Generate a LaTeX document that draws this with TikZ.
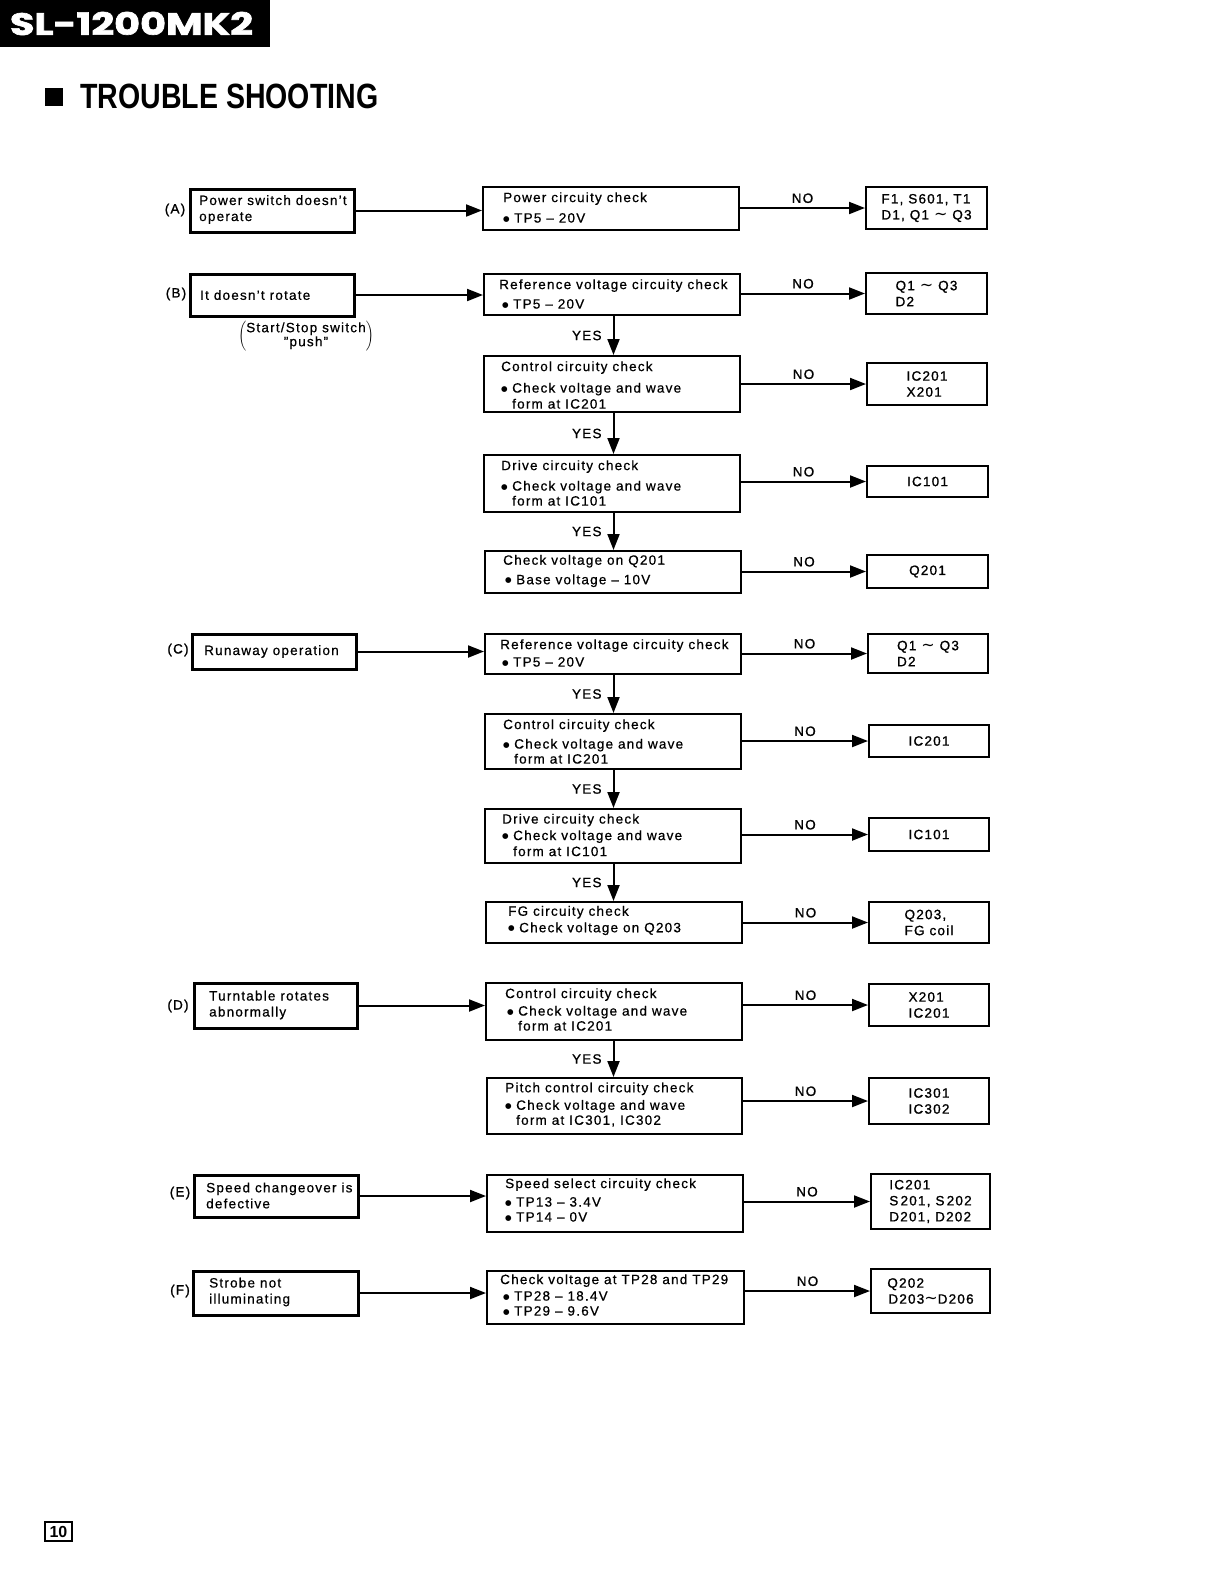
\documentclass[tikz,border=0pt]{standalone}
\usepackage{fontspec}
\usepackage{graphicx}
\usetikzlibrary{arrows.meta}
\newfontfamily\tsf{Liberation Sans}[LetterSpace=9,FakeBold=0.6]
\newfontfamily\tsfm{Liberation Sans}[LetterSpace=9,FakeBold=1.1]
\newfontfamily\hdrf{Poppins}[FakeBold=2]
\newfontfamily\ttlf{Liberation Sans}
\newfontfamily\dvs{DejaVu Sans}
\newcommand\fs{\fontsize{13.5pt}{16pt}\selectfont}
\newcommand\bul{\makebox[11pt][l]{\raisebox{1.3pt}{\dvs\fontsize{7.5pt}{7.5pt}\selectfont ●}}}
\newcommand\ind{\hspace*{11pt}}
\newcommand\tl{{\dvs\fontsize{16pt}{16pt}\selectfont ∼}}
\newcommand\dsh{–}
\newcommand\bx[7]{\node[#1, minimum width={#5-#3}, minimum height={#6-#4}] (#2) at ({(#3+#5)/2},{(#4+#6)/2}) {#7};}
\begin{document}
\begin{tikzpicture}[x=1pt,y=-1pt,
  lbox/.style={draw, line width=3pt, inner sep=0pt},
  mbox/.style={draw, line width=2pt, inner sep=0pt},
  rbox/.style={draw, line width=2pt, inner sep=0pt, align=left, font=\fs\tsfm},
  txt/.style={inner sep=0pt, align=left, anchor=west, font=\fs\tsf},
  lab/.style={inner sep=0pt, font=\fs\tsfm},
  arr/.style={line width=2pt, -{Triangle[length=16pt,width=12pt]}},
]
\fill[white] (0,0) rectangle (1218,1572);
\useasboundingbox (0,0) rectangle (1218,1572);

% header
\node[fill=black, minimum width=270, minimum height=47, anchor=north west, inner sep=0pt] (hdr) at (0,0) {};
\node[text=white, inner sep=0pt] (hdrt) at (131.5,23.5) {\resizebox{243pt}{23pt}{\hdrf\bfseries SL-1200MK2}};
\node[fill=black, minimum size=18, inner sep=0pt] (sq) at (54,97) {};
\node[anchor=west, inner sep=0pt] (ttl) at (80,96) {\resizebox{298pt}{24.5pt}{\ttlf\bfseries TROUBLE SHOOTING}};

% left boxes
\bx{lbox}{lA}{190}{189}{354}{232}{}
\bx{lbox}{lB}{190}{274}{354}{316}{}
\bx{lbox}{lC}{192}{634}{356}{669}{}
\bx{lbox}{lD}{194}{983}{357}{1028}{}
\bx{lbox}{lE}{194}{1175}{358}{1217}{}
\bx{lbox}{lF}{193}{1271}{358}{1315}{}
\node[txt] (lAt) at (199,209.5) {Power switch doesn’t\\operate};
\node[txt] (lBt) at (200,295) {It doesn’t rotate};
\node[txt] (lCt) at (204,651.5) {Runaway operation};
\node[txt] (lDt) at (209,1005) {Turntable rotates\\abnormally};
\node[txt] (lEt) at (206,1195.5) {Speed changeover is\\defective};
\node[txt] (lFt) at (209,1292) {Strobe not\\illuminating};
\node[lab] (LA) at (175,210) {(A)};
\node[lab] (LB) at (176,294) {(B)};
\node[lab] (LC) at (178,650) {(C)};
\node[lab] (LD) at (178,1006) {(D)};
\node[lab] (LE) at (180,1193) {(E)};
\node[lab] (LF) at (180,1291) {(F)};
\node[inner sep=0pt] (noteB) at (306,336) {$\left(\vcenter{\hbox{\fs\tsf\begin{tabular}{@{}c@{}}Start/Stop switch\\[-2pt]”push”\end{tabular}}}\right)$};

% middle boxes
\bx{mbox}{mA}{483}{187}{739}{230}{}
\bx{mbox}{mB1}{484}{274}{740}{315}{}
\bx{mbox}{mB2}{484}{356}{740}{412}{}
\bx{mbox}{mB3}{484}{455}{740}{512}{}
\bx{mbox}{mB4}{485}{551}{741}{593}{}
\bx{mbox}{mC1}{485}{634}{741}{674}{}
\bx{mbox}{mC2}{485}{714}{741}{769}{}
\bx{mbox}{mC3}{485}{809}{741}{863}{}
\bx{mbox}{mC4}{486}{902}{742}{943}{}
\bx{mbox}{mD1}{486}{983}{742}{1040}{}
\bx{mbox}{mD2}{487}{1078}{742}{1134}{}
\bx{mbox}{mE}{487}{1175}{743}{1232}{}
\bx{mbox}{mF}{487}{1271}{744}{1324}{}
\node[txt] (mAt) at (503,207.5) {Power circuity check\\[4.5pt]\bul TP5 \dsh{} 20V};
\node[txt] (mB1t) at (499,294) {Reference voltage circuity check\\[3.5pt]\hspace*{3pt}\bul TP5 \dsh{} 20V};
\node[txt] (mB2t) at (501,385) {Control circuity check\\[5.5pt]\bul Check voltage and wave\\\ind form at IC201};
\node[txt] (mB3t) at (501,483) {Drive circuity check\\[4.5pt]\bul Check voltage and wave\\[-1pt]\ind form at IC101};
\node[txt] (mB4t) at (503,571) {Check voltage on Q201\\[3.5pt]\hspace*{2pt}\bul Base voltage \dsh{} 10V};
\node[txt] (mC1t) at (500,653) {Reference voltage circuity check\\[1.5pt]\hspace*{2pt}\bul TP5 \dsh{} 20V};
\node[txt] (mC2t) at (503,741.5) {Control circuity check\\[3.5pt]\bul Check voltage and wave\\[-1pt]\ind form at IC201};
\node[txt] (mC3t) at (502,835) {Drive circuity check\\[0.5pt]\bul Check voltage and wave\\\ind form at IC101};
\node[txt] (mC4t) at (508,920.5) {FG circuity check\\[0.5pt]\bul Check voltage on Q203};
\node[txt] (mD1t) at (505,1009.5) {Control circuity check\\[1.5pt]\hspace*{2pt}\bul Check voltage and wave\\[-1pt]\hspace*{2pt}\ind form at IC201};
\node[txt] (mD2t) at (505,1104.5) {Pitch control circuity check\\[1.5pt]\bul Check voltage and wave\\[-1pt]\ind form at IC301, IC302};
\node[txt] (mEt) at (505,1200) {Speed select circuity check\\[2.5pt]\bul TP13 \dsh{} 3.4V\\[-1pt]\bul TP14 \dsh{} 0V};
\node[txt] (mFt) at (500,1295) {Check voltage at TP28 and TP29\\[0.5pt]\hspace*{3pt}\bul TP28 \dsh{} 18.4V\\[-1pt]\hspace*{3pt}\bul TP29 \dsh{} 9.6V};

% right boxes
\bx{rbox}{rA}{866}{187}{987}{229}{F1, S601, T1\\D1, Q1 \tl\ Q3}
\bx{rbox}{rB1}{866}{273}{987}{314}{Q1 \tl\ Q3\\D2}
\bx{rbox}{rB2}{867}{363}{987}{405}{IC201\\X201}
\bx{rbox}{rB3}{867}{466}{988}{497}{IC101}
\bx{rbox}{rB4}{867}{555}{988}{588}{Q201}
\bx{rbox}{rC1}{868}{634}{988}{673}{Q1 \tl\ Q3\\D2}
\bx{rbox}{rC2}{869}{725}{989}{757}{IC201}
\bx{rbox}{rC3}{869}{818}{989}{851}{IC101}
\bx{rbox}{rC4}{869}{902}{989}{943}{Q203,\\FG coil}
\bx{rbox}{rD1}{869}{984}{989}{1026}{X201\\IC201}
\bx{rbox}{rD2}{869}{1078}{989}{1124}{IC301\\IC302}
\bx{rbox}{rE}{871}{1174}{990}{1229}{IC201\\S\,201, S\,202\\D201, D202}
\bx{rbox}{rF}{871}{1269}{990}{1313}{Q202\\\hspace*{1pt}D203\tl D206}

% left -> middle
\foreach \l/\m in {lA/mA,lB/mB1,lC/mC1,lD/mD1,lE/mE,lF/mF}
  \draw[arr] (\l.east) -- (\l.east -| \m.west);

% middle -> right (NO)
\foreach \m/\r in {mA/rA,mB1/rB1,mB2/rB2,mB3/rB3,mB4/rB4,mC1/rC1,mC2/rC2,mC3/rC3,mC4/rC4,mD1/rD1,mD2/rD2,mE/rE,mF/rF}
  \draw[arr] (\m.east |- \r.west) -- (\r.west) node[midway, above=4pt, lab] {NO};

% vertical (YES)
\coordinate (vx) at (613.5,0);
\foreach \a/\b in {mB1/mB2,mB2/mB3,mB3/mB4,mC1/mC2,mC2/mC3,mC3/mC4,mD1/mD2}
  \draw[arr] (\a.south -| vx) -- (\b.north -| vx) node[midway, left=11pt, lab] {YES};

% page number
\node[draw, line width=1.5pt, minimum width=27, minimum height=19, inner sep=0pt, font=\ttlf\bfseries\fontsize{16pt}{16pt}\selectfont] (pg) at (58.5,1531.5) {10};
\end{tikzpicture}
\end{document}
